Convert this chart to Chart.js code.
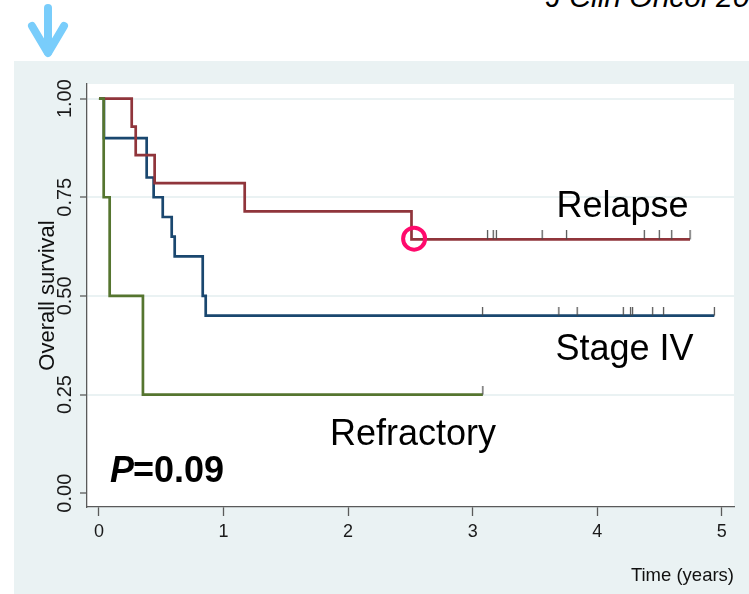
<!DOCTYPE html>
<html><head><meta charset="utf-8">
<script src="https://cdn.jsdelivr.net/npm/chart.js@4.4.1/dist/chart.umd.min.js"></script>
<style>
html,body{margin:0;padding:0;background:#fff;overflow:hidden;}
#wrap{position:relative;width:749px;height:594px;overflow:hidden;}
#panel{position:absolute;left:14px;top:61px;width:735px;height:533px;background:#eaf2f3;}
#c{position:absolute;left:0;top:0;}
#journal{position:absolute;left:546px;top:-18px;font:italic 30px "Liberation Sans",Arial,sans-serif;white-space:nowrap;color:#000;line-height:30px;}
#arrow{position:absolute;left:0;top:0;}
</style></head>
<body><div id="wrap"><div id="panel"></div>
<svg id="arrow" width="80" height="60"><g stroke="#79cdfb" stroke-width="8" stroke-linecap="round" stroke-linejoin="round" fill="none"><line x1="48" y1="8" x2="48" y2="52"/><polyline points="32,26 48,53 64,26"/></g></svg>
<div id="journal">J Clin Oncol 20</div>
<canvas id="c" width="749" height="594"></canvas></div>
<script>
// ---- data ----
const xTicks = [0, 1, 2, 3, 4, 5];
const yTicks = [0, 0.25, 0.5, 0.75, 1];

const relapseTimes = [0, 0.263, 0.295, 0.447, 1.17, 2.509, 4.745];
const relapseSurv  = [1, 0.929, 0.857, 0.786, 0.714, 0.643, 0.643];
const relapseCensor = [3.12, 3.165, 3.19, 3.558, 3.754, 4.378, 4.498, 4.598, 4.745];

const stageTimes = [0, 0.04, 0.383, 0.439, 0.512, 0.584, 0.608, 0.833, 0.857, 4.94];
const stageSurv  = [1, 0.9, 0.8, 0.75, 0.70, 0.65, 0.60, 0.50, 0.45, 0.45];
const stageCensor = [3.08, 3.692, 3.839, 4.209, 4.268, 4.284, 4.445, 4.533, 4.94];

const refrTimes = [0, 0.038, 0.086, 0.353, 3.082];
const refrSurv  = [1, 0.75, 0.5, 0.25, 0.25];
const refrCensor = [3.082];

const highlightX = [2.53];
const highlightY = [0.645];

// ---- helpers ----
const F = '"Liberation Sans", Arial, sans-serif';
function steps(t, s) { return t.map((v, i) => ({x: v, y: s[i]})); }
function survAt(t, s, x) { let v = s[0]; for (let i = 0; i < t.length; i++) { if (t[i] <= x) v = s[i]; } return v; }
function censorPts(c, t, s) { return c.map(x => ({x: x, y: survAt(t, s, x)})); }

const tickImg = document.createElement('canvas');
tickImg.width = 3; tickImg.height = 18;
(function(){ const tc = tickImg.getContext('2d'); tc.strokeStyle = '#4a4a4a'; tc.lineWidth = 1.2; tc.beginPath(); tc.moveTo(1.5, 0); tc.lineTo(1.5, 9); tc.stroke(); })();

function lineDs(label, t, s, color, order) {
  return {label, data: steps(t, s), showLine: true, stepped: true, borderColor: color, borderWidth: 2.7,
          pointRadius: 0, fill: false, order: order};
}
function censorDs(label, c, t, s) {
  return {label, data: censorPts(c, t, s), showLine: false, pointStyle: tickImg, pointRadius: 5, order: 1};
}

const annot = {
  id: 'annot',
  beforeDraw(chart) {
    const {ctx, chartArea: a} = chart;
    ctx.save(); ctx.fillStyle = '#ffffff';
    ctx.fillRect(a.left, a.top, a.right - a.left, a.bottom - a.top);
    ctx.restore();
  },
  afterDatasetsDraw(chart) {
    const ctx = chart.ctx;
    ctx.save();
    ctx.fillStyle = '#000';
    ctx.textBaseline = 'alphabetic';
    ctx.textAlign = 'center';
    ctx.font = '36px ' + F;
    ctx.fillText('Relapse', 622.5, 217);
    ctx.fillText('Stage IV', 624.5, 360);
    ctx.fillText('Refractory', 413, 445);
    ctx.textAlign = 'left';
    ctx.font = 'italic bold 36px ' + F;
    ctx.fillText('P', 110, 482);
    const w = ctx.measureText('P').width;
    ctx.font = 'bold 36px ' + F;
    ctx.fillText('=0.09', 110 + w - 1, 482);
    ctx.restore();
  }
};

new Chart(document.getElementById('c'), {
  type: 'scatter',
  data: {
    datasets: [
      {label: 'highlight', data: [{x: highlightX[0], y: highlightY[0]}], showLine: false, pointStyle: 'circle',
       pointRadius: 11, borderColor: '#ff0a6c', borderWidth: 4, backgroundColor: 'rgba(0,0,0,0)', order: 0},
      censorDs('Relapse censored', relapseCensor, relapseTimes, relapseSurv),
      censorDs('Stage IV censored', stageCensor, stageTimes, stageSurv),
      censorDs('Refractory censored', refrCensor, refrTimes, refrSurv),
      lineDs('Refractory', refrTimes, refrSurv, '#55752f', 2),
      lineDs('Relapse', relapseTimes, relapseSurv, '#90353b', 3),
      lineDs('Stage IV', stageTimes, stageSurv, '#1a476f', 4)
    ]
  },
  options: {
    responsive: false, animation: false, events: [],
    layout: {padding: {left: 0, top: 84, right: 15, bottom: 0}},
    plugins: {legend: {display: false}, tooltip: {enabled: false}},
    scales: {
      x: {
        type: 'linear', position: 'bottom', min: -0.096, max: 5.098,
        afterBuildTicks: s => { s.ticks = xTicks.map(v => ({value: v})); },
        afterFit: s => { s.height = 87; },
        grid: {drawOnChartArea: false, drawTicks: true, tickLength: 9, color: '#5a5a5a', tickColor: '#5a5a5a', tickWidth: 1.3},
        border: {display: true, color: '#5a5a5a', width: 1.3},
        ticks: {font: {family: F, size: 18}, color: '#1a1a1a', padding: 5, maxRotation: 0, autoSkip: false, callback: v => String(v)},
        title: {display: true, text: 'Time (years)', align: 'end', font: {family: F, size: 18.5}, color: '#111', padding: {top: 0, bottom: 7}}
      },
      y: {
        type: 'linear', position: 'left', min: -0.035, max: 1.037,
        afterBuildTicks: s => { s.ticks = yTicks.map(v => ({value: v})); },
        afterFit: s => { s.width = 87; },
        grid: {color: c => (c.tick && c.tick.value > 0) ? '#eaf2f3' : 'rgba(0,0,0,0)', lineWidth: 2,
               tickColor: '#5a5a5a', tickWidth: 1.3, tickLength: 7, drawTicks: true},
        border: {display: true, color: '#5a5a5a', width: 1.3},
        ticks: {font: {family: F, size: 20}, color: '#1a1a1a', minRotation: 90, maxRotation: 90, crossAlign: 'center',
                padding: -4.5, autoSkip: false, callback: v => Number(v).toFixed(2)},
        title: {display: true, text: 'Overall survival', font: {family: F, size: 22}, color: '#111', padding: {top: 34.5, bottom: 0}}
      }
    }
  },
  plugins: [annot]
});
</script>
</body></html>
